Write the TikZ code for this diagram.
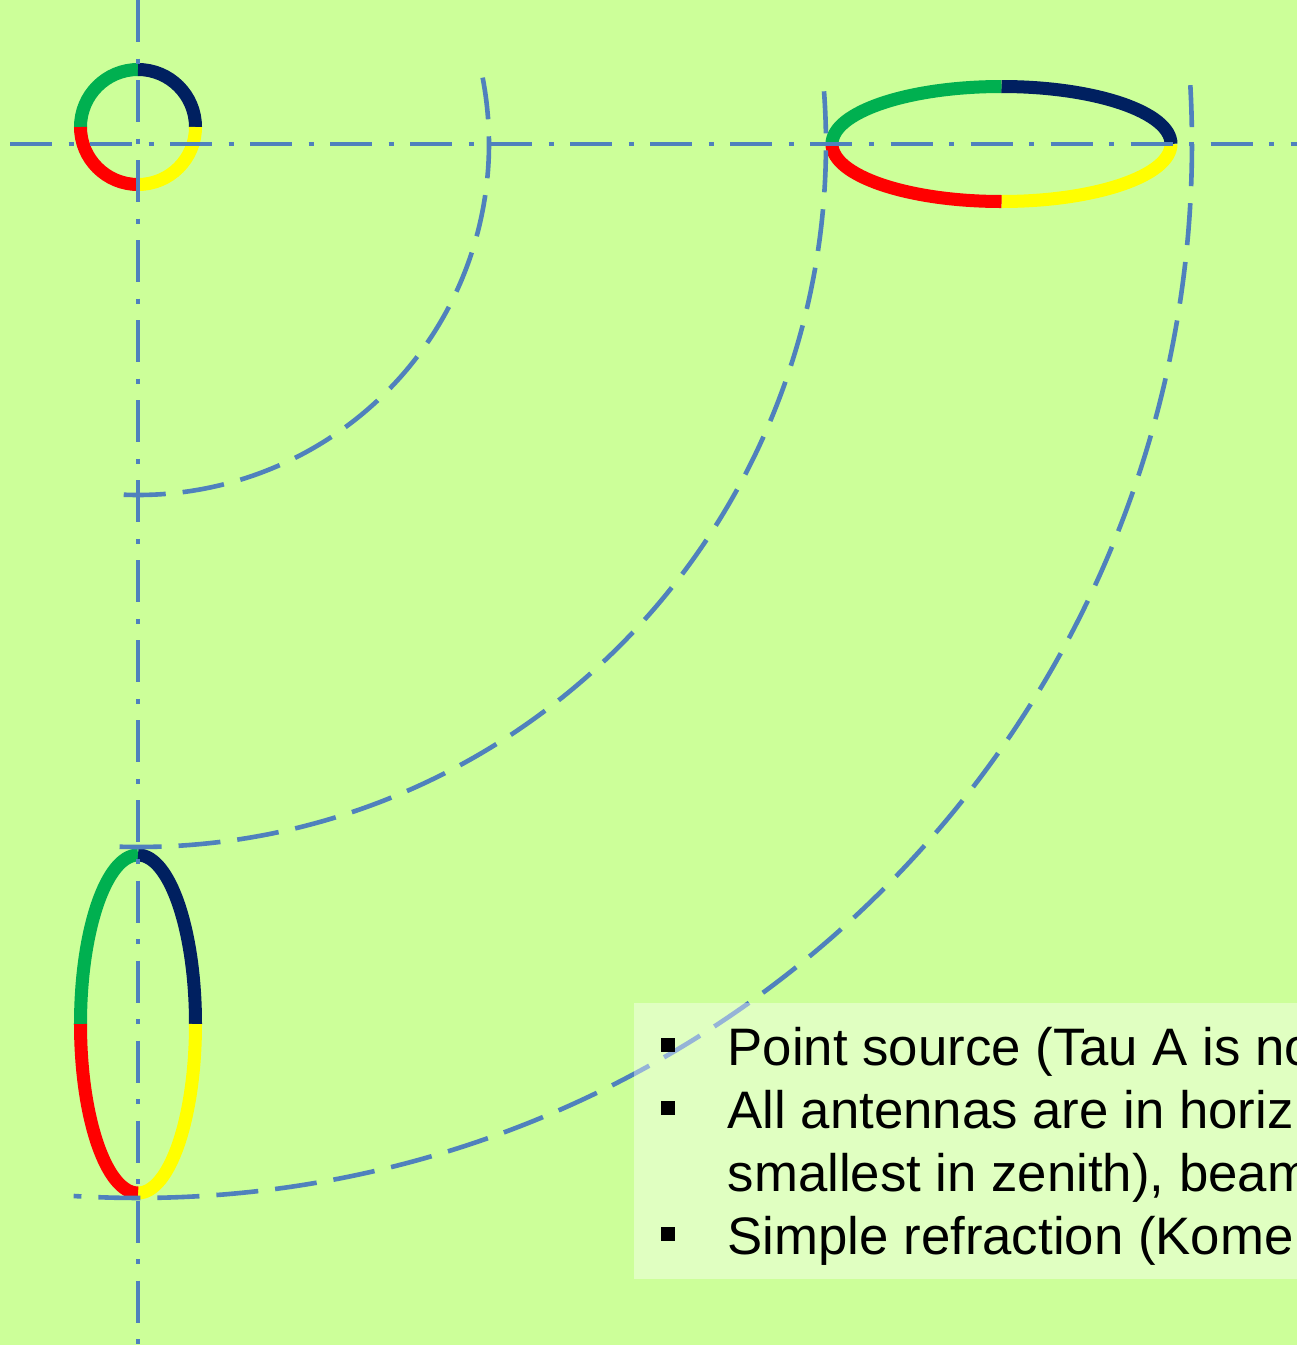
\documentclass[tikz,border=0pt]{standalone}
\usepackage{fontspec}
\setmainfont{Liberation Sans}
\usetikzlibrary{positioning}

\definecolor{bggreen}{RGB}{204,255,153}
\definecolor{axisblue}{RGB}{79,129,189}
\definecolor{qgreen}{RGB}{0,176,80}
\definecolor{qnavy}{RGB}{0,32,96}
\definecolor{qred}{RGB}{255,0,0}
\definecolor{qyellow}{RGB}{255,255,0}

\tikzset{
  axisline/.style={axisblue, line width=0.046cm,
    dash pattern=on 0.42cm off 0.165cm on 0.05cm off 0.165cm},
  beamarc/.style={axisblue, line width=0.046cm, dash pattern=on 0.42cm off 0.17cm},
  lobe/.style={line width=0.13cm},
  bulletbox/.style={fill=black, minimum size=0.14cm, inner sep=0pt},
  itemtext/.style={anchor=base west, inner sep=0pt, font=\fontsize{15}{18}\selectfont}
}

\begin{document}
\begin{tikzpicture}[x=0.01cm, y=-0.01cm]
    \clip (0,0) rectangle (1297,1345);
    \fill[bggreen] (0,0) rectangle (1297,1345);

    \coordinate (O) at (138,144);
    \coordinate (zenith) at (138,127);
    \coordinate (east) at (1001.5,144);
    \coordinate (north) at (138,1024);

    % beam in zenith
    \foreach \a/\b/\c in {180/270/qgreen, 270/360/qnavy, 0/90/qyellow, 90/180/qred} {
        \draw[lobe, \c] (zenith) ++(\a:57.5) arc[start angle=\a, end angle=\b, radius=57.5];
    }

    % beam stretched along x
    \foreach \a/\b/\c in {180/270/qgreen, 270/360/qnavy, 0/90/qyellow, 90/180/qred} {
        \draw[lobe, \c] (east) ++(\a:169.5 and 57.5)
            arc[start angle=\a, end angle=\b, x radius=169.5, y radius=57.5];
    }

    % beam stretched along y
    \foreach \a/\b/\c in {180/270/qgreen, 270/360/qnavy, 0/90/qyellow, 90/180/qred} {
        \draw[lobe, \c] (north) ++(\a:57.5 and 169)
            arc[start angle=\a, end angle=\b, x radius=57.5, y radius=169];
    }

    % axes
    \draw[axisline] (138,0) -- (138,1345);
    \draw[axisline] (10,144) -- (1297,144);

    % arcs
    \draw[beamarc] (O) ++(-10.9:351) arc[start angle=-10.9, end angle=94.1, radius=351];
    \draw[beamarc] (O) ++(-4.3:688 and 703)
        arc[start angle=-4.3, end angle=91.7, x radius=688, y radius=703];
    \draw[beamarc] (O) ++(-3.2:1054) arc[start angle=-3.2, end angle=93.5, radius=1054];

    % notes
    \fill[white, opacity=0.4] (634,1003) rectangle (1297,1279);

    \node[itemtext] (l1) at (727,1065) {Point source (Tau A is no};
    \node[itemtext] (l2) at (727,1128) {All antennas are in horiz};
    \node[itemtext] (l3) at (727,1191) {smallest in zenith), beam};
    \node[itemtext] (l4) at (727,1254) {Simple refraction (Kome};

    \node[bulletbox] (b1) at (668,1045) {};
    \node[bulletbox] (b2) at (668,1108) {};
    \node[bulletbox] (b4) at (668,1234) {};
\end{tikzpicture}
\end{document}
